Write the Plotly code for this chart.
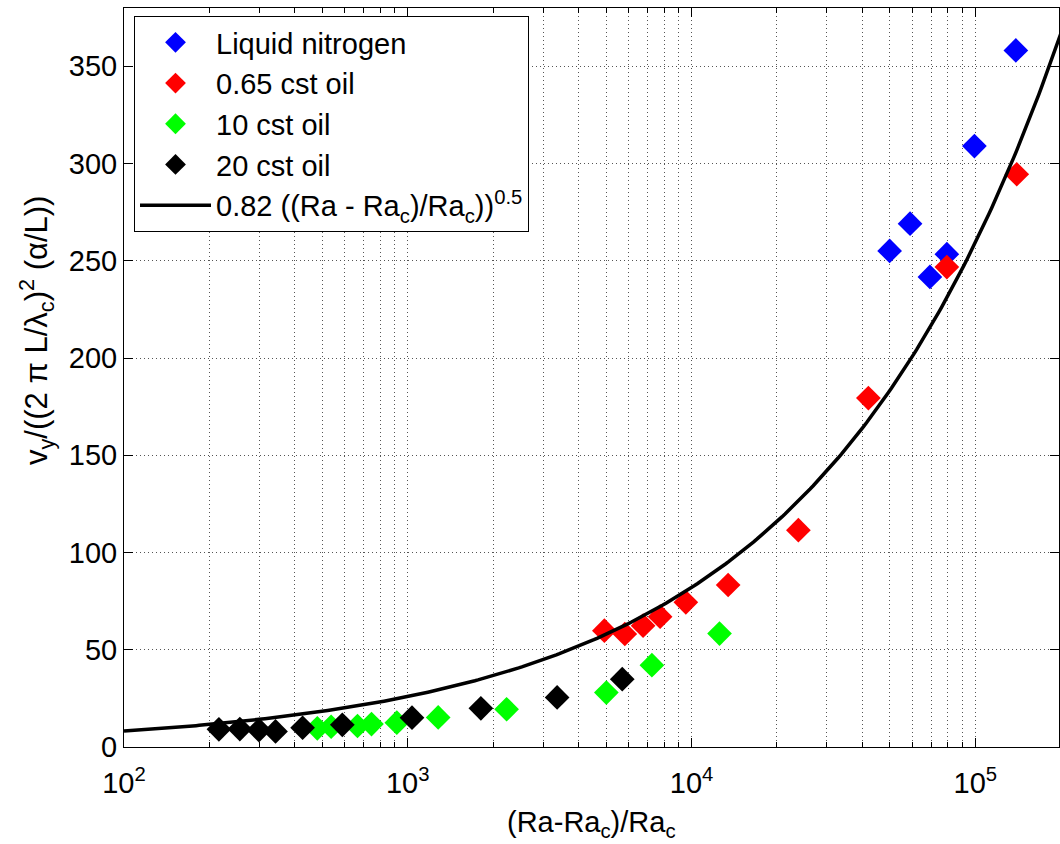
import numpy as np
import plotly.graph_objects as go

# Measured velocity scale vs reduced Rayleigh number, per working fluid
ln2_x = [1.39e5, 9.93e4, 5.89e4, 4.99e4, 7.94e4, 6.92e4]
ln2_y = [358.2, 309.0, 269.1, 255.1, 253.4, 241.7]

oil065_x = [1.40e5, 7.94e4, 4.20e4, 2.38e4, 1.346e4, 9.55e3, 7.75e3, 6.75e3, 5.82e3, 4.93e3]
oil065_y = [294.5, 246.8, 179.4, 111.5, 83.3, 74.4, 67.0, 62.4, 58.1, 59.8]

oil10_x = [1.255e4, 7.25e3, 5.01e3, 2.23e3, 1.28e3, 915, 745, 665, 537, 480]
oil10_y = [58.3, 42.1, 28.0, 19.4, 15.2, 12.5, 11.8, 10.8, 10.4, 9.6]

oil20_x = [5.7e3, 3.36e3, 1.81e3, 1.035e3, 588, 426, 342, 299, 256, 216]
oil20_y = [34.9, 25.5, 19.9, 15.1, 11.4, 9.9, 8.0, 8.7, 9.2, 9.1]

# Power-law fit  v = 0.82 * ((Ra - Ra_c)/Ra_c)^0.5
fit_coef = 0.82
fit_exp = 0.5
fit_x = np.logspace(2, np.log10(2e5), 300)
fit_y = fit_coef * fit_x ** fit_exp

major_ticks = [1e2, 1e3, 1e4, 1e5]
major_text = ["10<sup>2</sup>", "10<sup>3</sup>", "10<sup>4</sup>", "10<sup>5</sup>"]
minor_ticks = [m * 10 ** k for k in range(2, 6) for m in range(2, 10) if m * 10 ** k <= 2e5]
y_ticks = list(range(0, 351, 50))

FONT = "Liberation Sans, Arial, Helvetica, sans-serif"
FS = 29
MSIZE = 19

fig = go.Figure()
series = [
    ("Liquid nitrogen", ln2_x, ln2_y, "#0000ff"),
    ("0.65 cst oil", oil065_x, oil065_y, "#ff0000"),
    ("10 cst oil", oil10_x, oil10_y, "#00ff00"),
    ("20 cst oil", oil20_x, oil20_y, "#000000"),
]
for i, (name, xs, ys, col) in enumerate(series):
    fig.add_trace(go.Scatter(
        x=xs, y=ys, mode="markers", name=name, legendgroup=f"g{i}",
        marker=dict(symbol="diamond", size=MSIZE, color=col, line=dict(width=0)),
    ))

fig.add_trace(go.Scatter(
    x=fit_x, y=fit_y, mode="lines", legendgroup="fit",
    name="0.82 ((Ra - Ra<sub>c</sub>)/Ra<sub>c</sub>))<sup>0.5</sup>",
    line=dict(color="black", width=3.5),
))

grid_style = dict(gridcolor="#555555", griddash="1px,3px", gridwidth=1)

fig.update_layout(
    width=1060, height=844,
    margin=dict(l=124, r=1, t=8, b=97),
    paper_bgcolor="white", plot_bgcolor="white",
    font=dict(family=FONT, size=FS, color="black"),
    showlegend=True,
    legend=dict(
        x=0.0107, y=0.9892, xanchor="left", yanchor="top",
        bgcolor="white", bordercolor="black", borderwidth=1,
        font=dict(family=FONT, size=FS, color="black"),
        tracegroupgap=0, itemwidth=71,
    ),
    xaxis=dict(
        type="log", range=[2, 5.295],
        tickmode="array", tickvals=major_ticks, ticktext=major_text,
        ticks="inside", ticklen=9, tickcolor="black", tickwidth=1,
        tickfont=dict(family=FONT, size=FS, color="black"),
        ticklabelstandoff=10,
        showline=True, linecolor="black", linewidth=1, mirror="ticks",
        showgrid=True, **grid_style,
        minor=dict(tickmode="array", tickvals=minor_ticks, ticks="inside", ticklen=5,
                   tickcolor="black", showgrid=True, **grid_style),
        zeroline=False,
    ),
    yaxis=dict(
        range=[0, 380], tickmode="array", tickvals=y_ticks,
        ticks="inside", ticklen=9, tickcolor="black", tickwidth=1,
        tickfont=dict(family=FONT, size=FS, color="black"),
        ticklabelstandoff=0,
        showline=True, linecolor="black", linewidth=1, mirror="ticks",
        showgrid=True, **grid_style, zeroline=False,
    ),
    annotations=[
        dict(text="(Ra-Ra<sub>c</sub>)/Ra<sub>c</sub>", xref="paper", yref="paper",
             x=0.5, y=-0.077, xanchor="center", yanchor="top", showarrow=False,
             font=dict(family=FONT, size=FS, color="black")),
        dict(text="v<sub>y</sub>/((2 \u03c0 L/\u03bb<sub>c</sub>)<sup>2</sup> (\u03b1/L))",
             xref="paper", yref="paper", x=-0.093, y=0.563, textangle=-90,
             xanchor="center", yanchor="middle", showarrow=False,
             font=dict(family=FONT, size=31, color="black")),
    ],
)

fig.write_html("out.html")
